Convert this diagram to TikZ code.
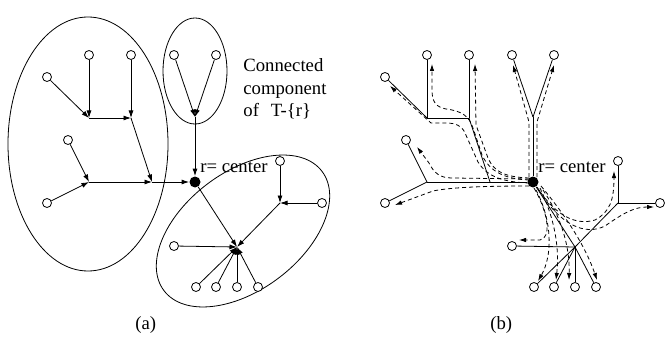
\documentclass[tikz,border=0pt]{standalone}
\usepackage{fontspec}
\setmainfont{Liberation Serif}
\usetikzlibrary{arrows.meta}
\begin{document}
\begin{tikzpicture}[x=1pt,y=-1pt,line width=0.8pt,
  leaf/.style={circle,draw,fill=white,minimum size=9pt,inner sep=0pt},
  ctr/.style={circle,fill=black,minimum size=11pt,inner sep=0pt},
  arr/.style={-{Latex[length=7.5pt,width=5pt]}},
  darr/.style={dash pattern=on 4pt off 3pt,-{Latex[length=7pt,width=4.5pt]}},
  lbl/.style={inner sep=0pt,anchor=base west,font=\fontsize{18.7}{22}\selectfont}]
\useasboundingbox (0,0) rectangle (665,337);

% ---------- (a) ----------
\draw (88,144) ellipse [x radius=80pt, y radius=127pt];
\draw (195,71) ellipse [x radius=32pt, y radius=53pt];
\draw[rotate around={37:(243,231)}] (243,231) ellipse [x radius=99pt, y radius=59pt];

\node[leaf] (A1) at (47,77) {};
\node[leaf] (A2) at (89,55) {};
\node[leaf] (A3) at (131,55) {};
\node[leaf] (A4) at (68,140) {};
\node[leaf] (A5) at (47,203) {};
\node[leaf] (B1) at (174,55) {};
\node[leaf] (B2) at (216,55) {};
\node[leaf] (C1) at (280,161) {};
\node[leaf] (C2) at (322,203) {};
\node[leaf] (C3) at (174,246) {};
\node[leaf] (G1) at (196,287) {};
\node[leaf] (G2) at (216,287) {};
\node[leaf] (G3) at (237,287) {};
\node[leaf] (G4) at (258,287) {};
\coordinate (J1) at (89,118);
\coordinate (J2) at (131,118);
\coordinate (J3) at (89,182);
\coordinate (J4) at (152,182);
\coordinate (J5) at (195,117);
\coordinate (J6) at (280,203);
\coordinate (J7) at (237,247);
\node[ctr] (R) at (195,182) {};

\draw[arr] (A1) -- (J1);
\draw[arr] (A2) -- (J1);
\draw[arr] (J1) -- (J2);
\draw[arr] (A3) -- (J2);
\draw[arr] (J2) -- (J4);
\draw[arr] (A4) -- (J3);
\draw[arr] (A5) -- (J3);
\draw[arr] (J3) -- (J4);
\draw[arr] (J4) -- (R);
\draw[arr] (B1) -- (J5);
\draw[arr] (B2) -- (J5);
\draw[arr] (J5) -- (R);
\draw[arr] (C1) -- (J6);
\draw[arr] (C2) -- (J6);
\draw[arr] (J6) -- (J7);
\draw[arr] (C3) -- (J7);
\draw[arr] (R) -- (J7);
\draw[arr] (G1) -- (J7);
\draw[arr] (G2) -- (J7);
\draw[arr] (G3) -- (J7);
\draw[arr] (G4) -- (J7);

\node[lbl] (t1) at (243,72) {Connected};
\node[lbl] (t2) at (243,95) {component};
\node[lbl] (t3) at (243,117) {of\hspace{12pt}T-\{r\}};
\node[lbl] (ra) at (200,172) {r= center};
\node[lbl] (la) at (135,329) {(a)};

% ---------- (b) ----------
\draw[darr] (529,177) -- (529,122) -- (513,65);
\draw[darr] (537,177) -- (537,122) -- (554,65);
\draw[darr] (529,178) .. controls (505,177) and (494,172) .. (488,158) -- (476,125) -- (475,64);
\draw[darr] (529,180) .. controls (505,179) and (490,172) .. (482,155) -- (473,128) .. controls (469,116) and (462,111) .. (446,109) .. controls (436,107) and (432,102) .. (432,90) -- (432,64);
\draw[darr] (529,183) .. controls (505,182) and (488,178) .. (478,162) -- (465,133) .. controls (462,126) and (456,123) .. (446,123) -- (431,123) -- (390,86);
\draw[darr] (529,179) -- (452,178) .. controls (440,178) and (434,173) .. (429,163) -- (417,147);
\draw[darr] (529,186) .. controls (490,186) and (452,187) .. (433,191) -- (395,205);
\draw[darr] (537,187) .. controls (555,215) and (575,226) .. (595,220) .. controls (610,212) and (614,200) .. (614,171);
\draw[darr] (539,190) .. controls (560,225) and (585,236) .. (605,226) .. controls (625,212) and (635,207) .. (654,207);
\draw[darr] (534,188) .. controls (548,212) and (552,238) .. (540,240) -- (519,240);
\draw[darr] (536,190) .. controls (552,220) and (553,255) .. (538,281);
\draw[darr] (540,188) .. controls (553,215) and (560,245) .. (556,280);
\draw[darr] (543,190) .. controls (560,215) and (570,245) .. (569,280);
\draw[darr] (541,186) .. controls (565,215) and (585,245) .. (597,280);

\node[leaf] (D1) at (385,77) {};
\node[leaf] (D2) at (427,55) {};
\node[leaf] (D3) at (469,55) {};
\node[leaf] (D4) at (406,140) {};
\node[leaf] (D5) at (385,203) {};
\node[leaf] (E1) at (512,55) {};
\node[leaf] (E2) at (554,55) {};
\node[leaf] (F1) at (618,161) {};
\node[leaf] (F2) at (660,203) {};
\node[leaf] (F3) at (512,246) {};
\node[leaf] (H1) at (534,287) {};
\node[leaf] (H2) at (554,287) {};
\node[leaf] (H3) at (575,287) {};
\node[leaf] (H4) at (596,287) {};
\coordinate (K1) at (427,118);
\coordinate (K2) at (469,118);
\coordinate (K3) at (427,182);
\coordinate (K4) at (490,182);
\coordinate (K5) at (533,117);
\coordinate (K6) at (618,203);
\coordinate (K7) at (575,247);
\node[ctr] (R2) at (533,182) {};

\draw (D1) -- (K1);
\draw (D2) -- (K1);
\draw (K1) -- (K2);
\draw (D3) -- (K2);
\draw (K2) -- (K4);
\draw (D4) -- (K3);
\draw (D5) -- (K3);
\draw (K3) -- (K4);
\draw (K4) -- (R2);
\draw (E1) -- (K5);
\draw (E2) -- (K5);
\draw (K5) -- (R2);
\draw (R2) -- (K7);
\draw (F1) -- (K6);
\draw (F2) -- (K6);
\draw (K6) -- (K7);
\draw (F3) -- (K7);
\draw (H1) -- (K7);
\draw (H2) -- (K7);
\draw (H3) -- (K7);
\draw (H4) -- (K7);

\node[lbl] (rb) at (538,172) {r= center};
\node[lbl] (lb) at (490,329) {(b)};
\end{tikzpicture}
\end{document}
